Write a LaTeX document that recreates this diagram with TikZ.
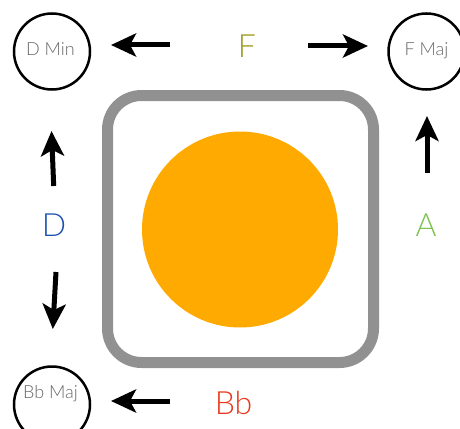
\documentclass[tikz,border=0pt]{standalone}
\usepackage{fontspec}
\setmainfont{Lato Light}
\usetikzlibrary{arrows.meta}
\definecolor{sunorange}{HTML}{FFAA00}
\definecolor{framegray}{HTML}{919191}
\definecolor{fcol}{HTML}{9B9B1E}
\definecolor{dcol}{HTML}{1E50B4}
\definecolor{acol}{HTML}{7DC251}
\definecolor{bbcol}{HTML}{E8381B}
\definecolor{chordgray}{HTML}{666666}
\tikzset{
  chord/.style={circle, draw=black, line width=2.5pt, minimum size=76pt, inner sep=0pt},
  chordtext/.style={anchor=base, text=chordgray, font=\fontsize{18}{20}\selectfont, inner sep=0pt},
  keylabel/.style={anchor=base, font=\fontsize{32}{36}\selectfont, inner sep=0pt},
  movearrow/.style={line width=5pt, -{Stealth[length=25pt, width=23pt, inset=6pt]}},
}
\begin{document}
\begin{tikzpicture}[x=1pt, y=-1pt]
\useasboundingbox (0,0) rectangle (460,428);
% frame and sun
\node[draw=framegray, line width=11pt, rounded corners=34pt, minimum width=266pt, minimum height=267pt, inner sep=0pt] (frame) at (240.5,229) {};
\node[circle, fill=sunorange, minimum size=196pt, inner sep=0pt] (sun) at (240,229.5) {};
% chord circles
\node[chord] (dmin) at (52,51.5) {};
\node[chordtext] (dmint) at (50.5,55.5) {D Min};
\node[chord] (fmaj) at (426.5,51.5) {};
\node[chordtext] (fmajt) at (426.5,55.5) {F Maj};
\node[chord] (bbmaj) at (52,404.5) {};
\node[chordtext] (bbmajt) at (50.5,398.5) {Bb Maj};
% key labels
\node[keylabel, text=fcol] (F) at (247,57) {F};
\node[keylabel, text=dcol] (D) at (54,236) {D};
\node[keylabel, text=acol] (A) at (426,236) {A};
\node[keylabel, text=bbcol] (Bb) at (233.5,414) {Bb};
% arrow end points
\coordinate (fl1) at (170,45);
\coordinate (fl2) at (111,45);
\coordinate (fr1) at (308,46);
\coordinate (fr2) at (368,46);
\coordinate (du1) at (53.7,186);
\coordinate (du2) at (51.5,131);
\coordinate (dd1) at (56,272);
\coordinate (dd2) at (52.8,329);
\coordinate (au1) at (427,173);
\coordinate (au2) at (427,116);
\coordinate (bl1) at (170,401);
\coordinate (bl2) at (111,401);
\draw[movearrow] (fl1) -- (fl2);
\draw[movearrow] (fr1) -- (fr2);
\draw[movearrow] (du1) -- (du2);
\draw[movearrow] (dd1) -- (dd2);
\draw[movearrow] (au1) -- (au2);
\draw[movearrow] (bl1) -- (bl2);
\end{tikzpicture}
\end{document}
